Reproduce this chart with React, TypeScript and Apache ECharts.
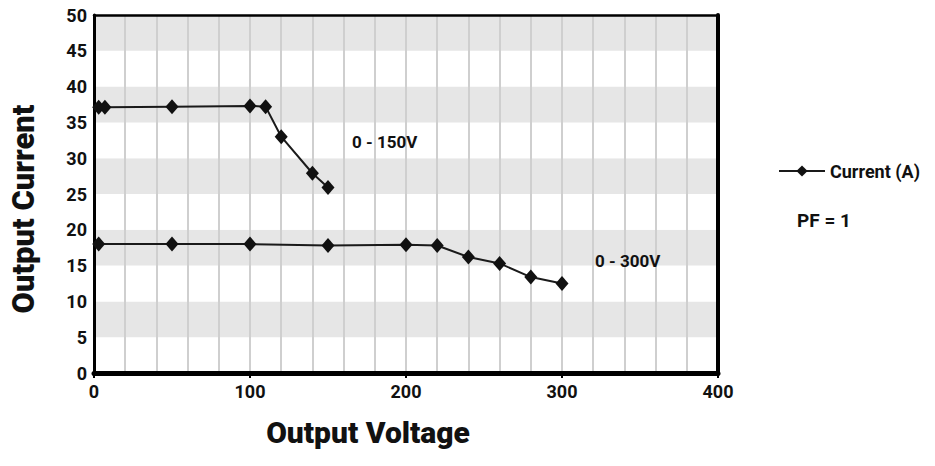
import React, { useEffect, useRef } from "react";
import * as echarts from "echarts";

const FONT = "Roboto, 'Liberation Sans Narrow', sans-serif";

const seriesName = "Current (A)";
const lowRangeVoltage = [3, 7, 50, 100, 110, 120, 140, 150];
const lowRangeCurrent = [37.1, 37.1, 37.2, 37.3, 37.2, 33.0, 27.9, 25.9];
const highRangeVoltage = [3, 50, 100, 150, 200, 220, 240, 260, 280, 300];
const highRangeCurrent = [18.0, 18.0, 18.0, 17.8, 17.9, 17.8, 16.2, 15.3, 13.4, 12.5];
const lowRangeLabel = "0 - 150V";
const highRangeLabel = "0 - 300V";
const noteLabel = "PF = 1";

export default function App() {
  const ref = useRef<HTMLDivElement>(null);
  useEffect(() => {
    document.body.style.margin = "0";
    const chart = echarts.init(ref.current!, null, { renderer: "svg" });
    const mk = (xs: number[], ys: number[]) => xs.map((x, i) => [x, ys[i]]);
    const lineStyle = { color: "#1a1a1a", width: 2 };
    chart.setOption({
      animation: false,
      backgroundColor: "#ffffff",
      textStyle: { fontFamily: FONT },
      grid: { left: 92.5, right: 217, top: 15, bottom: 93, show: false },
      legend: {
        left: 773,
        top: 157,
        itemWidth: 46,
        itemHeight: 14,
        itemGap: 10,
        data: [seriesName],
        textStyle: { fontFamily: FONT, fontSize: 18, fontWeight: "bold", color: "#111" },
      },
      xAxis: [
        {
          type: "value",
          min: 0,
          max: 400,
          interval: 100,
          axisLine: { show: true, lineStyle: { color: "#000", width: 5 } },
          axisTick: { show: true, length: 5, lineStyle: { color: "#000", width: 2 } },
          axisLabel: { fontFamily: FONT, fontSize: 18, fontWeight: "bold", color: "#111", margin: 9 },
          splitLine: { show: true, lineStyle: { color: "#cfcfcf", width: 2 } },
          minorTick: { show: false, splitNumber: 5 },
          minorSplitLine: { show: true, lineStyle: { color: "#cfcfcf", width: 2 } },
          name: "Output Voltage",
          nameLocation: "middle",
          nameGap: 44,
          nameTextStyle: {
            fontFamily: FONT,
            fontSize: 30,
            fontWeight: 900,
            color: "#111",
            padding: [0, 76, 0, 0],
          },
        },
        {
          type: "value",
          position: "top",
          min: 0,
          max: 400,
          interval: 100,
          axisLine: { show: true, onZero: false, lineStyle: { color: "#000", width: 2.5 } },
          axisTick: { show: false },
          axisLabel: { show: false },
          splitLine: { show: false },
        },
      ],
      yAxis: [
        {
          type: "value",
          min: 0,
          max: 50,
          interval: 5,
          axisLine: { show: true, lineStyle: { color: "#000", width: 3 } },
          axisTick: { show: false },
          axisLabel: { fontFamily: FONT, fontSize: 18, fontWeight: "bold", color: "#111", margin: 7 },
          splitLine: { show: false },
          splitArea: { show: true, areaStyle: { color: ["#ffffff", "#e6e6e6"] } },
          name: "Output Current",
          nameLocation: "middle",
          nameGap: 55,
          nameTextStyle: {
            fontFamily: FONT,
            fontSize: 31,
            fontWeight: 900,
            color: "#111",
            padding: [0, 30, 0, 0],
          },
        },
        {
          type: "value",
          position: "right",
          min: 0,
          max: 50,
          interval: 5,
          axisLine: { show: true, onZero: false, lineStyle: { color: "#000", width: 4 } },
          axisTick: { show: false },
          axisLabel: { show: false },
          splitLine: { show: false },
        },
      ],
      series: [
        {
          name: seriesName,
          type: "line",
          data: mk(lowRangeVoltage, lowRangeCurrent),
          symbol: "diamond",
          symbolSize: [13, 15],
          itemStyle: { color: "#111" },
          lineStyle,
        },
        {
          name: seriesName,
          type: "line",
          data: mk(highRangeVoltage, highRangeCurrent),
          symbol: "diamond",
          symbolSize: [13, 15],
          itemStyle: { color: "#111" },
          lineStyle,
        },
      ],
      graphic: [
        {
          type: "text",
          left: 352,
          top: 133,
          z: 100,
          style: { text: lowRangeLabel, font: `bold 17px ${FONT}`, fill: "#111" },
        },
        {
          type: "text",
          left: 595,
          top: 252,
          z: 100,
          style: { text: highRangeLabel, font: `bold 17px ${FONT}`, fill: "#111" },
        },
        {
          type: "text",
          left: 797,
          top: 211,
          z: 100,
          style: { text: noteLabel, font: `bold 19px ${FONT}`, fill: "#111" },
        },
      ],
    });
    return () => chart.dispose();
  }, []);
  return <div ref={ref} style={{ width: 935, height: 466 }} />;
}
